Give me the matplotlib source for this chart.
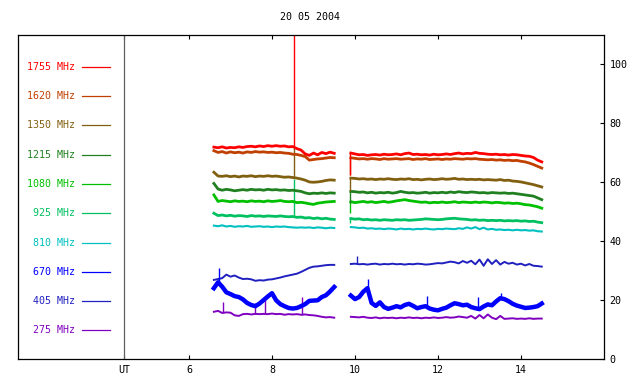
import numpy as np
import matplotlib
matplotlib.use("Agg")
import matplotlib.pyplot as plt

plt.rcParams['font.family'] = ['DejaVu Sans Mono']

# sampling times (UT hours) of the two recorded segments
t_a = np.round(np.arange(6.6, 9.55, 0.1), 2)
t_b = np.round(np.arange(9.9, 14.55, 0.1), 2)

freqs = ['1755 MHz', '1620 MHz', '1350 MHz', '1215 MHz', '1080 MHz',
         '925 MHz', '810 MHz', '670 MHz', '405 MHz', '275 MHz']
colors = ['#ff0000', '#c04000', '#806010', '#208020', '#00c000',
          '#00c060', '#00c0c0', '#0000ff', '#2020c0', '#8000c0']
widths = [2.0, 2.0, 2.0, 2.0, 2.0, 2.0, 1.5, 3.2, 1.4, 1.4]

# flux values, first segment (6.6 - 9.5 UT)
f1755_a = [71.8, 71.6, 71.9, 71.5, 71.7, 71.6, 71.9, 71.7, 72.0, 72.1,
           71.9, 72.2, 72.0, 72.3, 72.1, 72.3, 72.1, 72.2, 71.9, 72.0,
           71.3, 70.8, 69.5, 69.0, 69.8, 69.2, 70.0, 69.6, 70.1, 69.7]
f1620_a = [70.6, 70.0, 70.3, 69.8, 70.2, 69.9, 70.1, 69.8, 70.2, 70.0,
           70.3, 70.1, 70.2, 70.0, 70.1, 69.9, 70.0, 69.8, 69.7, 69.4,
           69.3, 69.0, 68.6, 67.4, 67.6, 67.8, 67.9, 68.1, 68.3, 68.2]
f1350_a = [63.3, 62.0, 61.9, 62.1, 61.8, 62.0, 61.7, 62.0, 61.9, 62.1,
           61.8, 62.0, 61.9, 62.1, 61.9, 62.0, 61.8, 61.6, 61.7, 61.5,
           61.3, 61.0, 60.6, 60.0, 59.9, 60.0, 60.2, 60.5, 60.7, 60.6]
f1215_a = [59.5, 57.6, 57.2, 57.5, 57.3, 57.0, 57.2, 57.4, 57.2, 57.5,
           57.3, 57.4, 57.2, 57.5, 57.3, 57.4, 57.2, 57.3, 57.1, 57.2,
           57.0, 56.8, 56.3, 56.0, 56.2, 56.1, 56.3, 56.1, 56.3, 56.2]
f1080_a = [55.6, 53.4, 53.7, 53.5, 53.3, 53.6, 53.4, 53.5, 53.3, 53.6,
           53.4, 53.5, 53.3, 53.6, 53.4, 53.5, 53.7, 53.4, 53.3, 53.4,
           53.0, 53.1, 52.9, 52.6, 52.4, 52.8, 53.0, 53.2, 53.3, 53.4]
f925_a = [49.4, 48.6, 48.8, 48.5, 48.7, 48.4, 48.6, 48.5, 48.3, 48.6,
          48.4, 48.5, 48.3, 48.5, 48.4, 48.3, 48.5, 48.3, 48.2, 48.3,
          48.0, 48.1, 47.8, 47.9, 47.6, 47.8, 47.5, 47.7, 47.4, 47.3]
f810_a = [45.2, 45.0, 45.3, 44.9, 45.1, 44.8, 45.0, 44.9, 45.1, 44.8,
          44.9, 45.0, 44.8, 44.9, 44.7, 44.9, 44.8, 44.9, 44.7, 44.6,
          44.5, 44.6, 44.5, 44.6, 44.4, 44.6, 44.5, 44.3, 44.5, 44.4]
f670_a = [24.0, 26.0, 24.5, 22.6, 22.0, 21.3, 21.0, 20.2, 19.0, 18.3,
          17.9, 18.8, 20.0, 21.2, 22.3, 19.9, 18.6, 17.9, 17.3, 17.1,
          17.3, 17.9, 18.6, 19.7, 19.8, 19.9, 21.0, 21.6, 22.9, 24.4]
f405_a = [26.8, 27.1, 27.4, 28.6, 27.9, 28.3, 27.6, 27.1, 27.2, 27.0,
          26.5, 26.7, 26.6, 26.9, 27.0, 27.3, 27.6, 28.0, 28.3, 28.6,
          28.9, 29.5, 30.2, 30.9, 31.3, 31.4, 31.6, 31.8, 31.9, 31.9]
f275_a = [16.0, 16.3, 15.6, 15.8, 15.7, 14.8, 14.6, 15.2, 15.3, 15.1,
          15.3, 15.2, 15.3, 15.2, 15.4, 15.2, 15.3, 15.0, 15.2, 15.1,
          15.2, 15.0, 15.1, 14.9, 14.8, 14.6, 14.3, 14.1, 14.2, 14.0]

# flux values, second segment (9.9 - 14.5 UT)
f1755_b = [69.8, 69.5, 69.2, 69.3, 69.0, 69.2, 69.3, 69.1, 69.4, 69.2,
           69.3, 69.5, 69.2, 69.6, 69.8, 69.3, 69.4, 69.2, 69.3, 69.1,
           69.4, 69.2, 69.3, 69.5, 69.3, 69.6, 69.8, 69.5, 69.7, 69.6,
           70.0, 69.7, 69.6, 69.4, 69.3, 69.4, 69.2, 69.3, 69.1, 69.3,
           69.2, 69.0, 68.8, 68.7, 68.3, 67.4, 66.8]
f1620_b = [68.2, 68.0, 67.8, 67.9, 67.7, 67.9, 67.8, 67.6, 67.9, 67.7,
           67.8, 67.9, 67.7, 67.8, 67.9, 67.6, 67.8, 67.7, 67.9, 67.6,
           67.7, 67.8, 67.6, 67.8, 67.7, 67.9, 67.8, 67.7, 67.9, 67.8,
           67.9, 67.7, 67.6, 67.5, 67.6, 67.4, 67.5, 67.3, 67.4, 67.2,
           67.3, 67.0, 66.8, 66.4, 65.9, 65.3, 64.7]
f1350_b = [61.3, 61.2, 61.0, 61.1, 60.9, 61.0, 60.8, 61.0, 60.9, 61.1,
           60.9, 60.8, 61.0, 60.9, 61.1, 60.8, 60.9, 60.7, 60.9, 61.0,
           60.8, 60.9, 61.1, 60.9, 61.0, 61.2, 60.9, 61.0, 60.8, 60.9,
           60.8, 60.9, 60.7, 60.8, 60.7, 60.6, 60.8, 60.5, 60.6, 60.3,
           60.2, 60.0, 59.7, 59.4, 59.1, 58.7, 58.3]
f1215_b = [56.8, 56.7, 56.5, 56.6, 56.3, 56.5, 56.2, 56.4, 56.3, 56.5,
           56.2, 56.4, 56.8, 56.5, 56.3, 56.4, 56.2, 56.3, 56.5, 56.2,
           56.4, 56.3, 56.5, 56.3, 56.6, 56.4, 56.7, 56.5, 56.4, 56.6,
           56.5, 56.3, 56.4, 56.2, 56.4, 56.3, 56.2, 56.3, 56.1, 56.2,
           56.0, 55.8, 55.6, 55.4, 55.2, 54.6, 54.0]
f1080_b = [53.3, 53.0, 53.2, 53.4, 53.1, 53.3, 53.0, 53.2, 53.4, 53.1,
           53.3, 53.6, 53.8, 54.0, 53.7, 53.5, 53.3, 53.1, 53.2, 52.9,
           53.1, 53.0, 53.2, 53.0, 53.1, 53.3, 53.0, 53.2, 53.1, 53.0,
           53.2, 53.0, 53.2, 53.1, 52.9, 53.1, 53.0, 52.8, 52.9, 52.7,
           52.8, 52.6, 52.3, 52.2, 51.9, 51.6, 51.1]
f925_b = [47.6, 47.4, 47.5, 47.2, 47.3, 47.1, 47.2, 47.0, 47.2, 47.1,
          47.0, 47.2, 47.1, 47.2, 47.0, 47.1, 47.2, 47.3, 47.5, 47.4,
          47.3, 47.2, 47.3, 47.5, 47.6, 47.7, 47.5, 47.4, 47.3, 47.1,
          47.2, 47.0, 47.1, 46.9, 47.0, 46.9, 47.0, 46.8, 46.9, 46.8,
          46.9, 46.7, 46.8, 46.6, 46.7, 46.4, 46.2]
f810_b = [44.7, 44.6, 44.4, 44.5, 44.2, 44.3, 44.1, 44.2, 44.0, 44.2,
          44.1, 43.9, 44.2, 44.0, 44.1, 43.9, 44.1, 44.0, 44.2, 44.0,
          43.9, 44.1, 44.0, 44.2, 44.1, 44.0, 44.3, 44.1, 44.6, 44.2,
          44.7, 44.0, 44.5, 43.9, 44.1, 43.8, 43.9, 43.7, 43.8, 43.6,
          43.8, 43.6, 43.7, 43.5, 43.6, 43.3, 43.2]
f670_b = [21.5, 20.3, 21.0, 22.8, 24.0, 19.0, 18.0, 19.2, 17.6, 17.0,
          17.4, 17.9, 17.5, 18.3, 18.7, 18.0, 17.2, 17.6, 17.9, 17.1,
          16.7, 16.5, 17.0, 17.4, 18.2, 18.9, 18.6, 18.2, 18.4, 17.6,
          17.2, 16.9, 17.8, 18.5, 18.2, 19.5, 20.6, 20.3, 19.6, 18.7,
          18.1, 17.7, 17.3, 17.4, 17.6, 17.9, 18.8]
f405_b = [32.2, 32.3, 32.1, 32.2, 32.0, 32.2, 32.3, 32.0, 32.2, 32.1,
          32.3, 32.1, 32.2, 32.0, 32.2, 32.1, 32.3, 32.2, 32.0, 32.1,
          32.3, 32.5, 32.4, 32.7, 33.0, 32.8, 32.4, 33.2, 32.6, 33.3,
          32.1, 33.7, 31.6, 33.8, 32.2, 33.5, 32.0, 32.9, 32.3, 32.6,
          32.0, 32.3, 31.7, 32.2, 31.6, 31.5, 31.3]
f275_b = [14.3, 14.2, 14.1, 14.3, 14.0, 13.9, 14.1, 13.8, 14.0, 13.9,
          14.0, 13.8, 14.0, 13.9, 14.1, 13.9, 14.0, 13.8, 14.0, 13.9,
          14.1, 13.9, 14.0, 14.2, 14.0, 14.1, 14.4, 14.2, 14.0, 14.6,
          13.7, 14.9, 13.8, 15.1, 14.0, 13.5, 14.6, 13.6, 13.7, 13.8,
          13.6, 13.7, 13.6, 13.8, 13.6, 13.7, 13.7]

# short spikes / dips (time, peak value)
spk_1755 = [(8.53, 130.0), (9.89, 62.4)]
spk_1620 = [(9.89, 62.5)]
spk_1350 = [(8.53, 72.0), (9.89, 57.0)]
spk_1215 = [(9.89, 53.0)]
spk_1080 = [(9.89, 49.4)]
spk_925 = [(8.53, 61.0), (9.89, 46.0)]
spk_810 = []
spk_670 = [(6.72, 30.7), (10.32, 27.0), (11.73, 21.5), (12.97, 21.1), (13.53, 22.5)]
spk_405 = [(10.04, 34.9)]
spk_275 = [(6.83, 19.4), (7.59, 19.1), (7.83, 21.0), (8.72, 21.0)]

series = [
    (f1755_a, f1755_b, spk_1755), (f1620_a, f1620_b, spk_1620),
    (f1350_a, f1350_b, spk_1350), (f1215_a, f1215_b, spk_1215),
    (f1080_a, f1080_b, spk_1080), (f925_a, f925_b, spk_925),
    (f810_a, f810_b, spk_810), (f670_a, f670_b, spk_670),
    (f405_a, f405_b, spk_405), (f275_a, f275_b, spk_275),
]

fig = plt.figure(figsize=(6.4, 3.84), dpi=100)
ax = fig.add_axes([18/640, 25/384, 586/640, 324/384])
ax.set_xlim(1.88, 16.0)
ax.set_ylim(0, 109.8)

ut_x = 4.43
ax.axvline(ut_x, color='#606060', lw=0.9)

# draw low frequencies first so red ends on top
for i in range(len(series) - 1, -1, -1):
    ya, yb, spk = series[i]
    ax.plot(t_a, ya, color=colors[i], lw=widths[i])
    ax.plot(t_b, yb, color=colors[i], lw=widths[i])
    t_all = np.concatenate([t_a, t_b])
    y_all = np.concatenate([ya, yb])
    for ts, vs in spk:
        base = np.interp(ts, t_all, y_all)
        ax.vlines(ts, min(base, vs), max(base, vs), color=colors[i], lw=1.0)

# legend column on the left
leg_y = np.linspace(99.0, 9.7, len(freqs))
for i, name in enumerate(freqs):
    ax.text(3.25, leg_y[i], name, color=colors[i], fontsize=7.2,
            ha='right', va='center')
    ax.plot([3.42, 4.10], [leg_y[i], leg_y[i]], color=colors[i], lw=0.9)

ax.set_xticks([ut_x, 6, 8, 10, 12, 14])
ax.set_xticklabels(['UT', '6', '8', '10', '12', '14'])
ax.set_yticks([0, 20, 40, 60, 80, 100])
ax.yaxis.tick_right()
ax.tick_params(axis='both', direction='in', length=3.2, width=0.8,
               labelsize=7.2, pad=4)
ax.tick_params(axis='x', top=True, bottom=True)
ax.tick_params(axis='y', left=False, right=True)
for s in ax.spines.values():
    s.set_linewidth(0.9)

fig.text(310/640, 1 - 17/384, '20 05 2004', fontsize=7.2, ha='center', va='center')

fig.savefig('out.png', dpi=100)
